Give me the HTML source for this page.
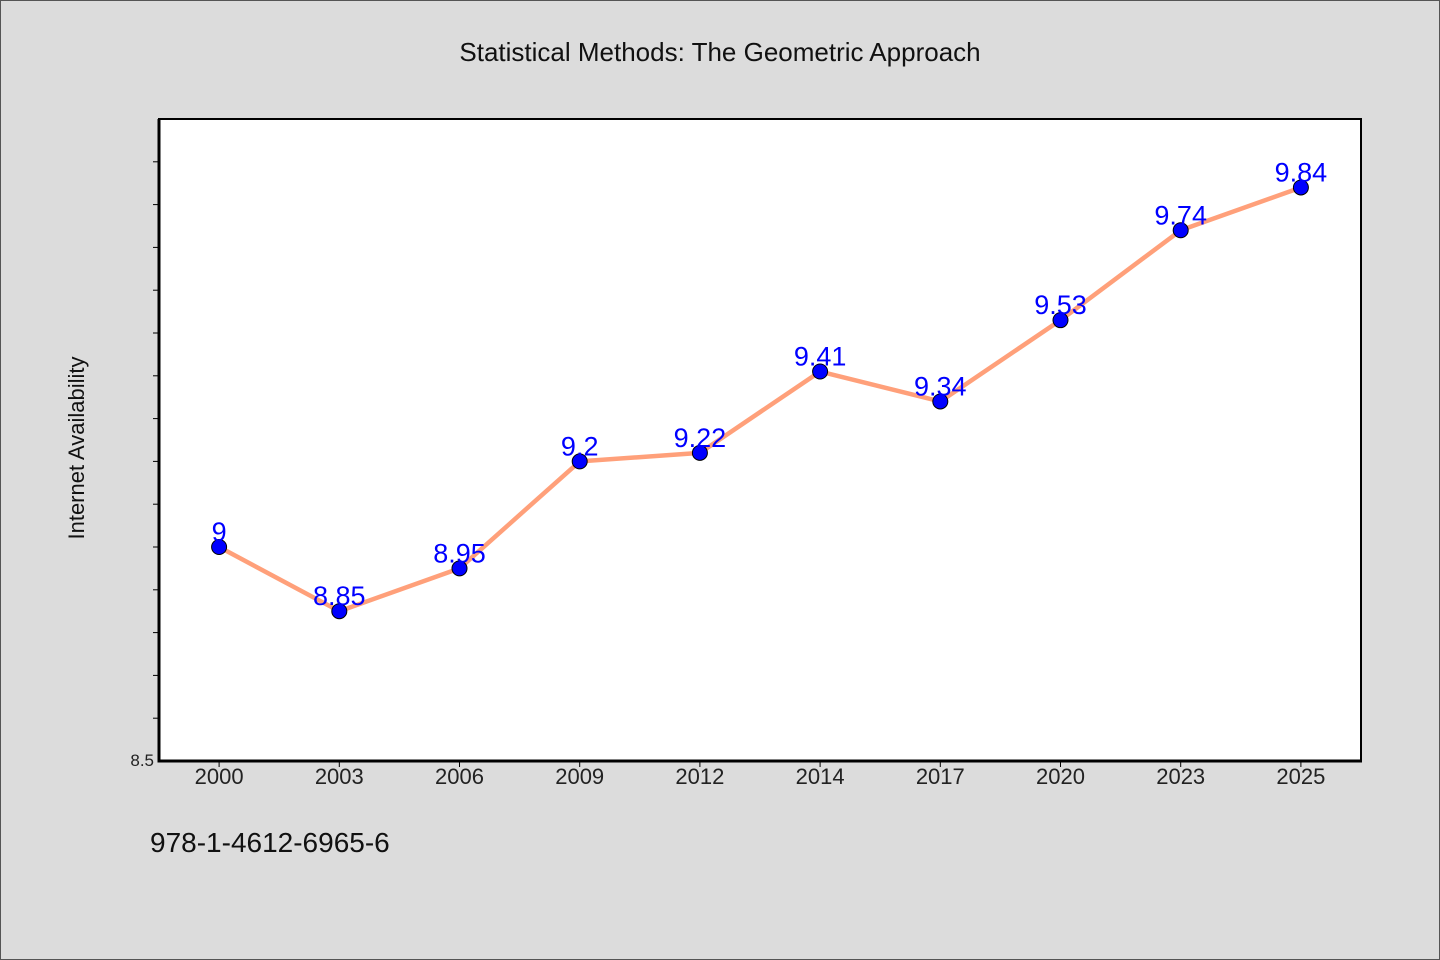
<!DOCTYPE html>
<html><head><meta charset="utf-8"><style>
html,body{margin:0;padding:0;background:#dcdcdc;}
svg{display:block;font-family:"WenQuanYi Zen Hei","Liberation Sans",sans-serif;}
</style></head><body>
<svg id="chart" width="1440" height="960">
<rect x="0.5" y="0.5" width="1439" height="959" fill="#dcdcdc" stroke="#555"/>
<text x="720" y="61" text-anchor="middle" font-size="26" fill="#111">Statistical Methods: The Geometric Approach</text>
<rect x="159" y="119" width="1202" height="642" fill="#fff" stroke="#000" stroke-width="2"/>
<text transform="translate(84,448) rotate(-90)" text-anchor="middle" font-size="22" fill="#111">Internet Availability</text>
<text x="150" y="852" font-size="28" fill="#111">978-1-4612-6965-6</text>
<g id="ticks"></g><g id="marks"></g>
</svg>
<script>
const categories=["2000","2003","2006","2009","2012","2014","2017","2020","2023","2025"];
const values=[9,8.85,8.95,9.2,9.22,9.41,9.34,9.53,9.74,9.84];
const yTickLabels=["8.5"];
const NS="http://www.w3.org/2000/svg";
const L=159,R=1361,T=119,B=761,yMin=8.5,yMax=10.0;
const band=(R-L)/categories.length;
const x=i=>L+band*(i+0.5);
const y=v=>B-(v-yMin)/(yMax-yMin)*(B-T);
function mk(tag,attrs,parent){const e=document.createElementNS(NS,tag);for(const k in attrs)e.setAttribute(k,attrs[k]);parent.appendChild(e);return e;}
const ticks=document.getElementById('ticks'),marks=document.getElementById('marks');
for(let k=1;k<=14;k++){const v=yMin+k*0.1;const t=mk('line',{x1:L-6,x2:L,y1:y(v),y2:y(v),stroke:'#000','stroke-width':1},ticks);

}
yTickLabels.forEach(s=>{const t=mk('text',{x:L-5,y:y(parseFloat(s))+5,'text-anchor':'end','font-size':17,fill:'#222'},ticks);t.textContent=s;

});
categories.forEach((c,i)=>{const l=mk('line',{x1:x(i),x2:x(i),y1:B,y2:B+6,stroke:'#000','stroke-width':1},ticks);


const t=mk('text',{x:x(i),y:B+23,'text-anchor':'middle','font-size':22,fill:'#222'},ticks);t.textContent=c;

});
mk('line',{x1:L,x2:L,y1:T,y2:B+1.5,stroke:'#000','stroke-width':3},ticks);
mk('line',{x1:L-1.5,x2:R+1,y1:B,y2:B,stroke:'#000','stroke-width':3},ticks);
const pl=mk('polyline',{points:values.map((v,i)=>x(i)+','+y(v)).join(' '),fill:'none',stroke:'#ffa07a','stroke-width':4.5,'stroke-linejoin':'round'},marks);


values.forEach((v,i)=>{const c=mk('circle',{cx:x(i),cy:y(v),r:7.5,fill:'#0000ff',stroke:'#000','stroke-width':1},marks);


const t=mk('text',{x:x(i),y:y(v)-6,'text-anchor':'middle','font-size':27,fill:'#0000ff'},marks);t.textContent=String(v);

});
</script>
</body></html>
